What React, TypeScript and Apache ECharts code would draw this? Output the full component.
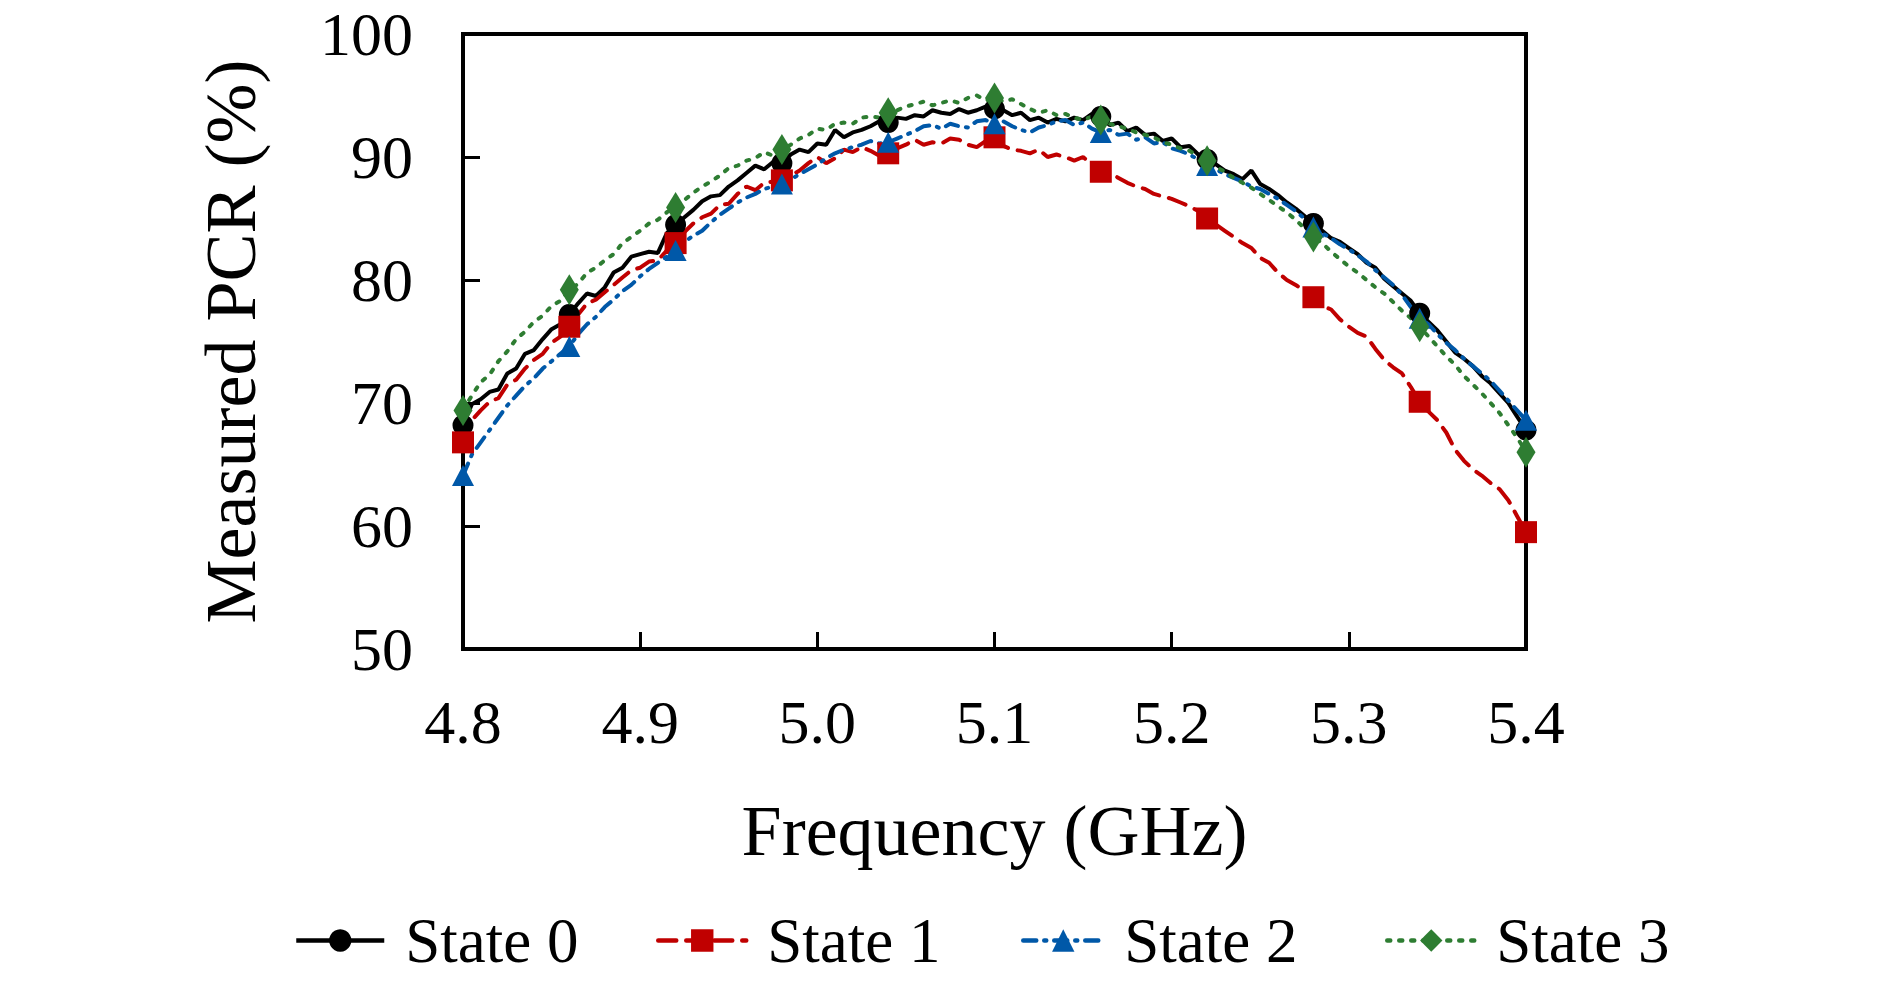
import React, { useRef, useEffect } from "react";
import * as echarts from "echarts";

// frequency grid, 4.800 .. 5.400 GHz in 5 MHz steps
const freqs: number[] = Array.from({ length: 121 }, (_, i) => +(4.8 + i * 0.005).toFixed(3));
// markers every 0.06 GHz
const markerEvery = 12;

const xTicks = [4.8, 4.9, 5.0, 5.1, 5.2, 5.3, 5.4];
const yTicks = [50, 60, 70, 80, 90, 100];

const state0 = [
  68.2, 69.9, 70.3, 70.9, 71.1, 72.4, 72.8, 74.0, 74.3, 75.2, 76.0, 76.4, 77.2,
  78.1, 78.9, 78.7, 79.4, 80.6, 81.0, 81.9, 82.1, 82.3, 82.2, 83.8, 84.5,
  85.1, 85.7, 86.4, 86.8, 86.9, 87.6, 88.1, 88.7, 89.3, 89.0, 89.6, 89.5,
  90.2, 90.6, 90.4, 91.1, 91.0, 92.2, 91.6, 92.0, 92.2, 92.5, 92.9, 92.8,
  93.2, 93.1, 93.4, 93.3, 93.8, 93.6, 93.5, 93.9, 93.6, 93.8, 94.1, 93.9,
  93.8, 93.4, 93.6, 93.0, 93.2, 92.8, 93.1, 92.9, 93.2, 93.0, 93.5, 93.3,
  92.6, 92.8, 92.1, 92.4, 91.8, 91.9, 91.3, 91.5, 90.8, 90.9, 90.2, 89.8,
  89.4, 88.9, 88.6, 88.2, 88.9, 87.8, 87.4, 86.9, 86.3, 85.8, 85.2, 84.6,
  84.0, 83.4, 83.1, 82.6, 82.1, 81.4, 81.0, 80.1, 79.5, 78.9, 78.3, 77.3,
  76.6, 75.9, 75.0, 74.1, 73.6, 73.0, 72.2, 71.6, 70.8, 70.0, 68.9, 67.8,
];

const state1 = [
  66.8, 68.6, 69.4, 70.1, 70.4, 71.5, 71.9, 72.8, 73.5, 74.0, 74.9, 75.4, 76.2,
  77.2, 78.1, 78.4, 79.0, 79.6, 80.2, 80.8, 81.0, 81.5, 81.6, 82.4, 83.0,
  83.9, 84.6, 85.1, 85.4, 86.1, 86.2, 87.0, 87.6, 87.3, 87.9, 88.0, 88.1,
  88.5, 88.9, 89.5, 90.0, 89.5, 89.9, 90.6, 90.4, 90.8, 90.5, 90.1, 90.3,
  90.7, 91.0, 91.4, 91.0, 91.2, 91.1, 91.5, 91.4, 91.0, 90.8, 91.3, 91.6,
  90.9, 90.6, 90.5, 90.3, 90.6, 90.0, 90.2, 90.0, 89.7, 90.0, 89.4, 88.8,
  88.7, 88.3, 87.9, 87.6, 87.4, 87.0, 86.8, 86.6, 86.3, 86.0, 85.6, 85.0,
  84.5, 84.0, 83.5, 83.0, 82.6, 81.8, 81.4, 80.6, 80.0, 79.6, 79.1, 78.6,
  77.9, 77.6, 76.8, 76.2, 75.7, 75.4, 74.4, 73.5, 72.9, 72.4, 71.3, 70.1,
  69.3, 68.6, 67.6, 66.2, 65.3, 64.6, 64.1, 63.5, 63.0, 62.1, 60.8, 59.5,
];

const state2 = [
  64.1, 65.8, 66.8, 67.8, 68.8, 69.8, 70.6, 71.4, 72.0, 72.8, 73.4, 74.0, 74.6,
  75.6, 76.4, 77.0, 77.8, 78.4, 79.1, 79.6, 80.3, 80.9, 81.4, 81.9, 82.4,
  83.1, 83.6, 84.0, 84.7, 85.3, 85.8, 86.3, 86.7, 87.0, 87.4, 87.6, 87.8,
  88.2, 88.6, 89.0, 89.4, 89.9, 90.3, 90.6, 90.8, 91.0, 91.3, 91.1, 91.2,
  91.5, 91.8, 92.1, 92.5, 92.6, 92.3, 92.7, 92.5, 92.4, 92.9, 93.0, 92.7,
  92.9, 92.5, 92.2, 92.0, 92.4, 92.6, 92.9, 93.0, 92.6, 92.8, 92.3, 92.0,
  92.2, 91.8, 91.9, 91.4, 91.6, 91.1, 91.2, 90.7, 90.5, 90.2, 89.8, 89.3,
  89.0, 88.6, 88.3, 88.0, 87.6, 87.4, 87.0, 86.6, 86.1, 85.6, 85.0, 84.3,
  83.8, 83.4, 82.9, 82.5, 82.0, 81.5, 80.8, 80.2, 79.6, 78.8, 77.8, 76.9,
  76.4, 75.6, 74.9, 74.3, 73.6, 73.0, 72.4, 71.8, 71.0, 70.2, 69.4, 68.6,
];

const state3 = [
  69.4, 70.6, 71.7, 72.3, 73.4, 74.2, 75.2, 75.8, 76.6, 77.1, 77.9, 78.3, 79.2,
  79.7, 80.6, 81.0, 81.6, 82.1, 83.0, 83.5, 84.0, 84.6, 84.9, 85.5, 85.9,
  86.5, 87.1, 87.6, 88.0, 88.5, 89.1, 89.3, 89.7, 89.9, 90.4, 90.1, 90.6,
  91.0, 91.5, 91.8, 92.3, 92.2, 92.7, 92.8, 92.7, 93.2, 93.3, 93.2, 93.6,
  93.8, 94.1, 94.3, 94.5, 94.2, 94.4, 94.6, 94.4, 94.8, 95.0, 94.6, 94.8,
  94.5, 94.7, 94.3, 93.9, 93.6, 93.8, 93.4, 93.5, 93.2, 93.0, 93.3, 93.0,
  92.7, 92.5, 92.3, 92.0, 91.8, 91.6, 91.2, 91.0, 90.7, 90.5, 90.1, 89.7,
  89.2, 88.8, 88.3, 87.9, 87.5, 87.0, 86.5, 86.0, 85.5, 84.9, 84.2, 83.5,
  83.0, 82.3, 81.7, 81.1, 80.6, 80.0, 79.4, 78.9, 78.2, 77.5, 76.9, 76.2,
  75.4, 74.6, 73.8, 73.1, 72.2, 71.5, 70.8, 70.0, 69.2, 68.2, 67.2, 66.0,
];

const seriesNames = ["State 0", "State 1", "State 2", "State 3"];

const FONT = "'Liberation Serif', 'DejaVu Serif', serif";

const toData = (vals: number[]) =>
  vals.map((v, i) =>
    i % markerEvery === 0 ? [freqs[i], v] : { value: [freqs[i], v], symbol: "none" }
  );

const App = () => {
  const chartRef = useRef<HTMLDivElement>(null);

  useEffect(() => {
    document.body.style.margin = "0";
    const chart = echarts.init(chartRef.current, null, { renderer: "svg" });

    const legendAt = (name: string, left: number, width: number) => ({
      data: [{ name, lineStyle: { width: 4.5 } }],
      left,
      top: 904,
      itemWidth: width,
      itemHeight: 28,
      lineStyle: { width: 4.5 },
      textStyle: {
        fontFamily: FONT,
        fontSize: 63,
        color: "#000",
        padding: [0, 0, 0, 16],
      },
    });

    const options = {
      animation: false,
      backgroundColor: "#fff",
      grid: {
        left: 463,
        right: 364,
        top: 34,
        bottom: 332,
        show: true,
        borderColor: "#000",
        borderWidth: 4,
      },
      legend: [
        legendAt(seriesNames[0], 289, 88),
        legendAt(seriesNames[1], 651, 88),
        legendAt(seriesNames[2], 1016, 80),
        legendAt(seriesNames[3], 1380, 88),
      ],
      xAxis: {
        type: "value",
        min: xTicks[0],
        max: xTicks[xTicks.length - 1],
        interval: 0.1,
        name: "Frequency (GHz)",
        nameLocation: "middle",
        nameGap: 146,
        nameTextStyle: { fontFamily: FONT, fontSize: 72, color: "#000" },
        axisLine: { lineStyle: { color: "#000", width: 4 } },
        axisTick: { inside: true, length: 17, lineStyle: { color: "#000", width: 3 } },
        axisLabel: {
          fontFamily: FONT,
          fontSize: 62,
          color: "#000",
          margin: 42,
          formatter: (v: number) => v.toFixed(1),
        },
        splitLine: { show: false },
      },
      yAxis: {
        type: "value",
        min: yTicks[0],
        max: yTicks[yTicks.length - 1],
        interval: 10,
        name: "Measured PCR (%)",
        nameLocation: "middle",
        nameGap: 196,
        nameTextStyle: { fontFamily: FONT, fontSize: 72, color: "#000" },
        axisLine: { lineStyle: { color: "#000", width: 4 } },
        axisTick: { inside: true, length: 17, lineStyle: { color: "#000", width: 3 } },
        axisLabel: { fontFamily: FONT, fontSize: 62, color: "#000", margin: 50 },
        splitLine: { show: false },
      },
      series: [
        {
          name: seriesNames[0],
          type: "line",
          data: toData(state0),
          symbol: "circle",
          symbolSize: 21,
          color: "#000000",
          lineStyle: { color: "#000000", width: 4, type: "solid" },
        },
        {
          name: seriesNames[1],
          type: "line",
          data: toData(state1),
          symbol: "rect",
          symbolSize: 22,
          color: "#C00000",
          lineStyle: { color: "#C00000", width: 4, type: [18, 10], cap: "round" },
        },
        {
          name: seriesNames[2],
          type: "line",
          data: toData(state2),
          symbol: "triangle",
          symbolSize: [22, 21],
          color: "#0058A8",
          lineStyle: { color: "#0058A8", width: 4, type: [13, 8, 2, 8], cap: "round" },
        },
        {
          name: seriesNames[3],
          type: "line",
          data: toData(state3),
          symbol: "diamond",
          symbolSize: [19, 31],
          color: "#2E7D32",
          lineStyle: { color: "#2E7D32", width: 4, type: [3, 9], cap: "round" },
        },
      ],
    };
    chart.setOption(options);
    return () => {
      chart.dispose();
    };
  }, []);

  return <div ref={chartRef} style={{ width: 1890, height: 981 }} />;
};

export default App;
